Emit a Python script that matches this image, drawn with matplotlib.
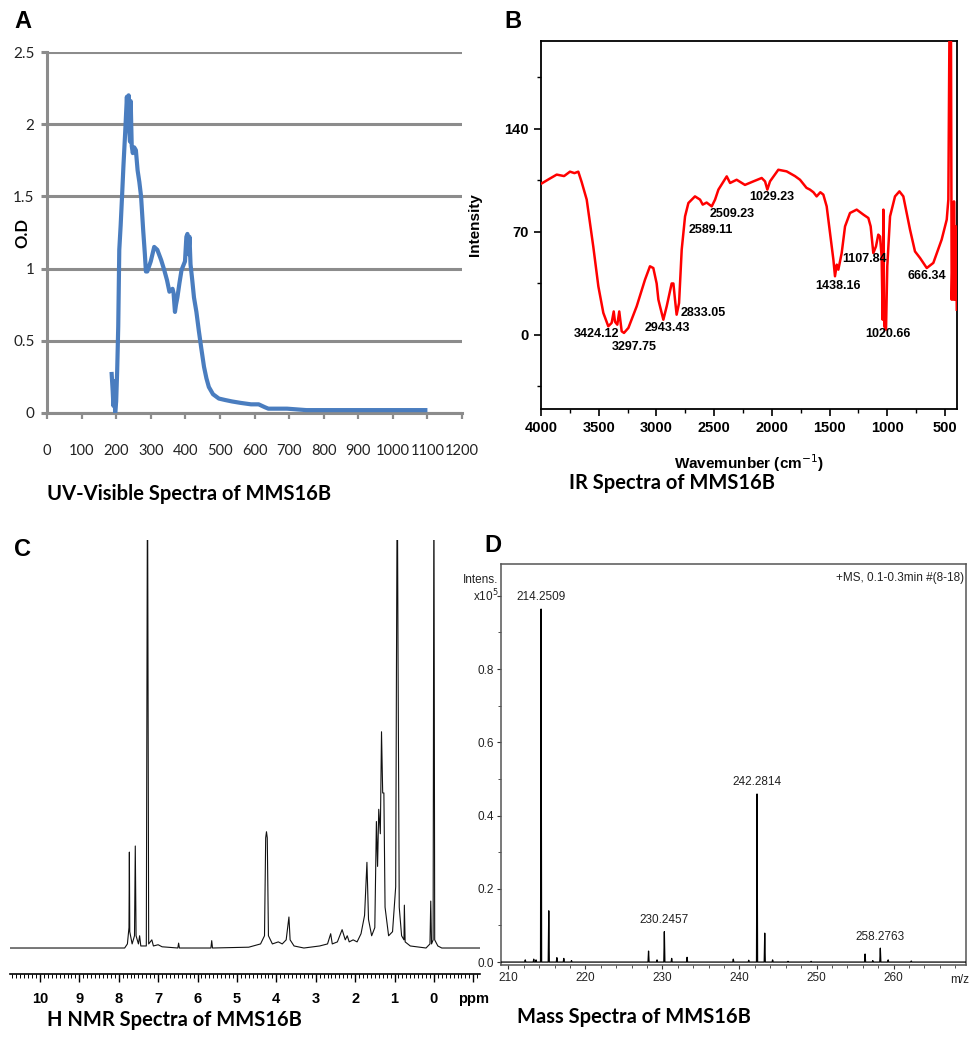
import numpy as np
import matplotlib
matplotlib.use("Agg")
import matplotlib.pyplot as plt
from matplotlib.ticker import MultipleLocator

W, H = 971, 1038

# ---- A: UV-Vis spectrum (wavelength nm, O.D) ----
uv_wl = [187, 190, 192, 195, 197, 200, 203, 206, 209, 213, 217, 221, 226, 231, 233,
         236, 238, 240, 242, 245, 248, 252, 257, 262, 267, 272, 278, 283, 286, 290,
         300, 310, 319, 330, 339, 347, 354, 363, 366, 370, 373, 377, 383, 389, 394,
         399, 403, 406, 409, 412, 415, 420, 425, 432, 439, 446, 454, 461, 468, 480,
         497, 515, 535, 560, 590, 612, 630, 640, 660, 694, 750, 850, 950, 1050, 1094]
uv_od = [0.27, 0.15, 0.05, 0.22, 0.0, 0.08, 0.3, 0.6, 1.13, 1.3, 1.5, 1.71, 1.94, 2.19, 2.05,
         2.2, 1.95, 1.88, 2.16, 1.85, 1.8, 1.84, 1.82, 1.68, 1.6, 1.5, 1.27, 1.1, 0.98, 0.98,
         1.05, 1.15, 1.13, 1.06, 0.99, 0.92, 0.84, 0.86, 0.83, 0.70, 0.75, 0.80, 0.90, 0.99, 1.02,
         1.05, 1.22, 1.24, 1.10, 1.22, 1.03, 0.92, 0.80, 0.70, 0.57, 0.45, 0.32, 0.24, 0.18, 0.13,
         0.10, 0.09, 0.08, 0.07, 0.06, 0.06, 0.04, 0.03, 0.03, 0.03, 0.02, 0.02, 0.02, 0.02, 0.02]

# ---- B: IR spectrum (wavenumber, intensity) ----
ir_wn = [3994, 3930, 3864, 3800, 3749, 3710, 3677, 3648, 3604, 3547, 3503, 3460, 3417, 3388,
         3370, 3359, 3339, 3322, 3301, 3281, 3243, 3171, 3099, 3056, 3027, 2998, 2983, 2969,
         2940, 2911, 2868, 2853, 2839, 2825, 2804, 2781, 2752, 2723, 2666, 2622, 2599, 2565,
         2521, 2492, 2463, 2391, 2362, 2305, 2233, 2160, 2088, 2059, 2039, 2016, 1944, 1872,
         1800, 1756, 1700, 1670, 1640, 1612, 1580, 1554, 1525, 1496, 1467, 1453, 1438, 1424,
         1395, 1366, 1323, 1265, 1207, 1164, 1144, 1121, 1098, 1078, 1063, 1049, 1040, 1034,
         1026, 1011, 1000, 976, 933, 895, 861, 803, 760, 716, 658, 601, 529, 485, 471, 462,
         448, 442, 433, 427, 422, 413, 404, 398]
ir_int = [103, 106, 109, 108, 111, 110, 111, 104, 92, 60, 33, 15, 5.9, 8.2,
          16, 9, 7, 16, 2.5, 1.4, 4.8, 19.5, 37.6, 46.7, 45.5, 35, 24, 19.5,
          10.4, 19.5, 35, 35, 24, 13.8, 21.7, 58, 80.6, 89.7, 94.2, 92, 88.6, 90,
          87.4, 92, 98.8, 107.8, 103.3, 105.5, 102, 104.4, 106.7, 104.4, 98.8, 104.4, 112.3, 111.2,
          108, 105.5, 100, 98.8, 97, 94.2, 97, 95.4, 87.4, 69.3, 51.2, 39.9, 47.8, 44.4,
          55.7, 73.8, 82.9, 85.2, 81.8, 79.5, 73.8, 55.7, 60.2, 68.2, 67, 53.4, 10.4, 85.2,
          5.9, 3.6, 46.7, 80.6, 94.2, 97.6, 94.2, 71.6, 56.8, 52.3, 45.5, 49, 64.8, 78.4, 92, 200,
          200, 24, 58, 24, 90.8, 24, 73.8, 17.2]
ir_labels = ["3424.12", "3297.75", "2943.43", "2833.05", "2589.11", "2509.23",
             "1029.23", "1438.16", "1107.84", "1020.66", "666.34"]
ir_lab_x = [3517, 3194, 2902, 2594, 2527, 2343, 2001, 1424, 1199, 991, 659]
ir_lab_y = [0.5, -8.4, 4.6, 15.2, 71.4, 82.2, 93.6, 33.5, 51.7, 0.5, 40.3]

# ---- C: 1H NMR spectrum (ppm, relative intensity) ----
nmr_ppm = [10.76, 7.85, 7.78, 7.74, 7.73, 7.72, 7.66, 7.60, 7.58, 7.56, 7.50, 7.47, 7.44,
           7.30, 7.27, 7.24, 7.16, 7.12, 7.00, 6.90, 6.50, 6.48, 6.46, 5.66, 5.64, 5.62,
           4.70, 4.40, 4.30, 4.27, 4.25, 4.23, 4.20, 4.10, 3.95, 3.85, 3.75, 3.68, 3.65,
           3.55, 3.30, 2.90, 2.70, 2.62, 2.58, 2.45, 2.33, 2.25, 2.20, 2.15, 2.05, 1.95,
           1.85, 1.76, 1.70, 1.66, 1.58, 1.50, 1.46, 1.43, 1.40, 1.36, 1.33, 1.30, 1.27,
           1.24, 1.15, 1.05, 0.97, 0.95, 0.93, 0.91, 0.88, 0.82, 0.76, 0.75, 0.73, 0.60,
           0.20, 0.10, 0.08, 0.06, 0.02, 0.00, -0.02, -0.10, -0.20, -1.17]
nmr_int = [0.0, 0.0, 0.01, 0.05, 0.235, 0.04, 0.01, 0.03, 0.25, 0.03, 0.01, 0.03, 0.005,
           0.005, 1.2, 0.01, 0.02, 0.005, 0.008, 0.003, 0.0, 0.012, 0.0, 0.0, 0.018, 0.0,
           0.002, 0.01, 0.03, 0.27, 0.285, 0.27, 0.03, 0.01, 0.015, 0.01, 0.02, 0.076, 0.02,
           0.005, 0.0, 0.005, 0.01, 0.035, 0.01, 0.015, 0.045, 0.02, 0.03, 0.015, 0.02, 0.015,
           0.035, 0.08, 0.21, 0.07, 0.03, 0.05, 0.31, 0.2, 0.34, 0.28, 0.53, 0.38, 0.38,
           0.1, 0.03, 0.04, 0.15, 0.7, 1.2, 0.7, 0.1, 0.03, 0.02, 0.105, 0.015, 0.005,
           0.0, 0.01, 0.115, 0.01, 0.02, 1.2, 0.02, 0.005, 0.0, 0.0]

# ---- D: mass spectrum (m/z, intensity x1e5) ----
ms_mz = [212.2, 213.3, 213.6, 214.25, 215.25, 216.3, 217.2, 218.2, 228.2, 229.3, 230.25,
         231.2, 233.2, 239.2, 241.2, 242.28, 243.28, 244.3, 246.3, 249.3, 256.3, 257.3,
         258.28, 259.3, 262.3]
ms_int = [0.006, 0.008, 0.006, 0.964, 0.14, 0.012, 0.01, 0.004, 0.03, 0.006, 0.083,
          0.01, 0.013, 0.008, 0.005, 0.459, 0.079, 0.006, 0.002, 0.002, 0.022, 0.004,
          0.038, 0.006, 0.003]
ms_labels = ["214.2509", "230.2457", "242.2814", "258.2763"]
ms_lab_mz = [214.25, 230.25, 242.28, 258.28]
ms_lab_int = [0.964, 0.083, 0.459, 0.038]


def rect(l, t, r, b):
    return [l / W, 1 - b / H, (r - l) / W, (b - t) / H]


def ftext(x, y, s, **kw):
    fig.text(x / W, 1 - y / H, s, **kw)


fig = plt.figure(figsize=(W / 100, H / 100), dpi=100)
calib = ["Lato", "DejaVu Sans"]
arial = ["Liberation Sans", "DejaVu Sans"]

# panel letters
for lx, ly, letter in [(14, 22, "A"), (504, 22, "B"), (14, 549, "C"), (484, 546, "D")]:
    ftext(lx, ly, letter, family=arial, weight="bold", fontsize=17, va="center")

# ---------------- A ----------------
grey = "#8c8c8c"
axA = fig.add_axes(rect(47, 52, 462, 413))
axA.plot(uv_wl, uv_od, color="#4a7dbf", lw=3, solid_joinstyle="round", zorder=3)
axA.set_xlim(0, 1200)
axA.set_ylim(0, 2.5)
axA.set_xticks(range(0, 1201, 100))
axA.set_yticks([0, 0.5, 1, 1.5, 2, 2.5])
axA.set_yticklabels(["0", "0.5", "1", "1.5", "2", "2.5"])
axA.yaxis.grid(True, color=grey, lw=2.2)
axA.set_axisbelow(True)
for s in ["top", "right"]:
    axA.spines[s].set_visible(False)
for s in ["left", "bottom"]:
    axA.spines[s].set_color(grey)
    axA.spines[s].set_linewidth(2.2)
axA.tick_params(axis="x", direction="out", length=4, width=1.6, color=grey, pad=18,
                labelsize=10.5)
axA.tick_params(axis="y", direction="out", length=4, width=2.2, color=grey, pad=5,
                labelsize=11)
for lab in axA.get_xticklabels() + axA.get_yticklabels():
    lab.set_family(calib)
    lab.set_color("#222222")
axA.set_ylabel("O.D", family=calib, weight="bold", fontsize=12)
axA.yaxis.set_label_coords(-0.04, 0.5)
ftext(47, 494, "UV-Visible Spectra of MMS16B", family=calib, weight="bold",
      fontsize=14.5, va="center")

# ---------------- B ----------------
axB = fig.add_axes(rect(541, 41, 957, 409))
axB.plot(ir_wn, ir_int, color="red", lw=1.8, zorder=3)
axB.set_xlim(4000, 396)
axB.set_ylim(-50.3, 199.8)
axB.set_xticks(range(4000, 499, -500))
axB.xaxis.set_minor_locator(MultipleLocator(250))
axB.set_yticks([0, 70, 140])
axB.set_yticks([-35, 35, 105, 175], minor=True)
for s in axB.spines.values():
    s.set_linewidth(1.3)
axB.tick_params(which="major", direction="out", length=5, width=1.2, labelsize=10.5, pad=4)
axB.tick_params(which="minor", direction="out", length=3, width=1.0)
for lab in axB.get_xticklabels() + axB.get_yticklabels():
    lab.set_family(arial)
    lab.set_weight("bold")
for s, x, y in zip(ir_labels, ir_lab_x, ir_lab_y):
    axB.text(x, y, s, family=arial, weight="bold", fontsize=9, ha="center", va="center",
             zorder=4)
axB.set_xlabel("Wavemunber (cm$^{-1}$)", family=arial, weight="bold", fontsize=11,
               labelpad=12)
axB.set_ylabel("Intensity", family=arial, weight="bold", fontsize=11, labelpad=16)
ftext(569, 483, "IR Spectra of MMS16B", family=calib, weight="bold", fontsize=14.5,
      va="center")

# ---------------- C ----------------
axC = fig.add_axes(rect(10, 540, 480, 974))
axC.plot(nmr_ppm, nmr_int, color="#111111", lw=0.8, zorder=3)
axC.set_xlim(10.76, -1.17)
axC.set_ylim(-0.0637, 1.0)
for s in ["top", "right", "left"]:
    axC.spines[s].set_visible(False)
axC.spines["bottom"].set_linewidth(1.2)
axC.set_yticks([])
axC.set_xticks(range(10, -2, -1))
axC.set_xticklabels([str(v) for v in range(10, -1, -1)] + ["ppm"])
axC.xaxis.set_minor_locator(MultipleLocator(0.1))
axC.tick_params(which="major", direction="out", length=6, width=1.0, pad=7, labelsize=10.5)
axC.tick_params(which="minor", direction="out", length=3, width=0.7)
for lab in axC.get_xticklabels():
    lab.set_family(arial)
    lab.set_weight("bold")
ftext(47, 1020, "H NMR Spectra of MMS16B", family=calib, weight="bold", fontsize=14.5,
      va="center")

# ---------------- D ----------------
axD = fig.add_axes(rect(501, 564, 966, 965))
mz = np.asarray(ms_mz)
it = np.asarray(ms_int)
xs = np.concatenate([[209.05], np.column_stack([mz - 0.07, mz, mz + 0.07]).ravel(), [269.4]])
ys = np.concatenate([[0], np.column_stack([np.zeros_like(it), it, np.zeros_like(it)]).ravel(), [0]])
axD.plot(xs, ys, color="black", lw=0.9, zorder=3)
axD.set_xlim(209.05, 269.4)
axD.set_ylim(-0.008, 1.087)
axD.set_xticks(range(210, 261, 10))
axD.xaxis.set_minor_locator(MultipleLocator(2))
axD.set_yticks([0, 0.2, 0.4, 0.6, 0.8, 1.0])
axD.set_yticklabels(["0.0", "0.2", "0.4", "0.6", "0.8", ""])
axD.yaxis.set_minor_locator(MultipleLocator(0.1))
for s in axD.spines.values():
    s.set_color("#555555")
    s.set_linewidth(1.1)
axD.tick_params(which="major", direction="out", length=3, width=0.8, labelsize=8.5, pad=2,
                color="#333333", labelcolor="#222222")
axD.tick_params(which="minor", direction="out", length=2, width=0.6, color="#333333")
for lab in axD.get_xticklabels() + axD.get_yticklabels():
    lab.set_family(arial)
for s, x, y in zip(ms_labels, ms_lab_mz, ms_lab_int):
    axD.annotate(s, (x, y), xytext=(0, 4), textcoords="offset points", ha="center",
                 va="bottom", family=arial, fontsize=8.5, color="#222222")
axD.text(-0.005, 1.0, "x10$^5$", transform=axD.get_yaxis_transform(), ha="right",
         va="center", family=arial, fontsize=8.5, color="#222222")
axD.text(-0.005, 1.043, "Intens.", transform=axD.get_yaxis_transform(), ha="right",
         va="center", family=arial, fontsize=8.5, color="#222222")
axD.text(0.995, 0.965, "+MS, 0.1-0.3min #(8-18)", transform=axD.transAxes, ha="right",
         va="center", family=arial, fontsize=8.5, color="#222222")
axD.text(268.6, -0.037, "m/z", transform=axD.get_xaxis_transform(), ha="center",
         va="center", family=arial, fontsize=8.5, color="#222222")
ftext(517, 1017, "Mass Spectra of MMS16B", family=calib, weight="bold", fontsize=14.5,
      va="center")

fig.savefig("out.png", dpi=100)
